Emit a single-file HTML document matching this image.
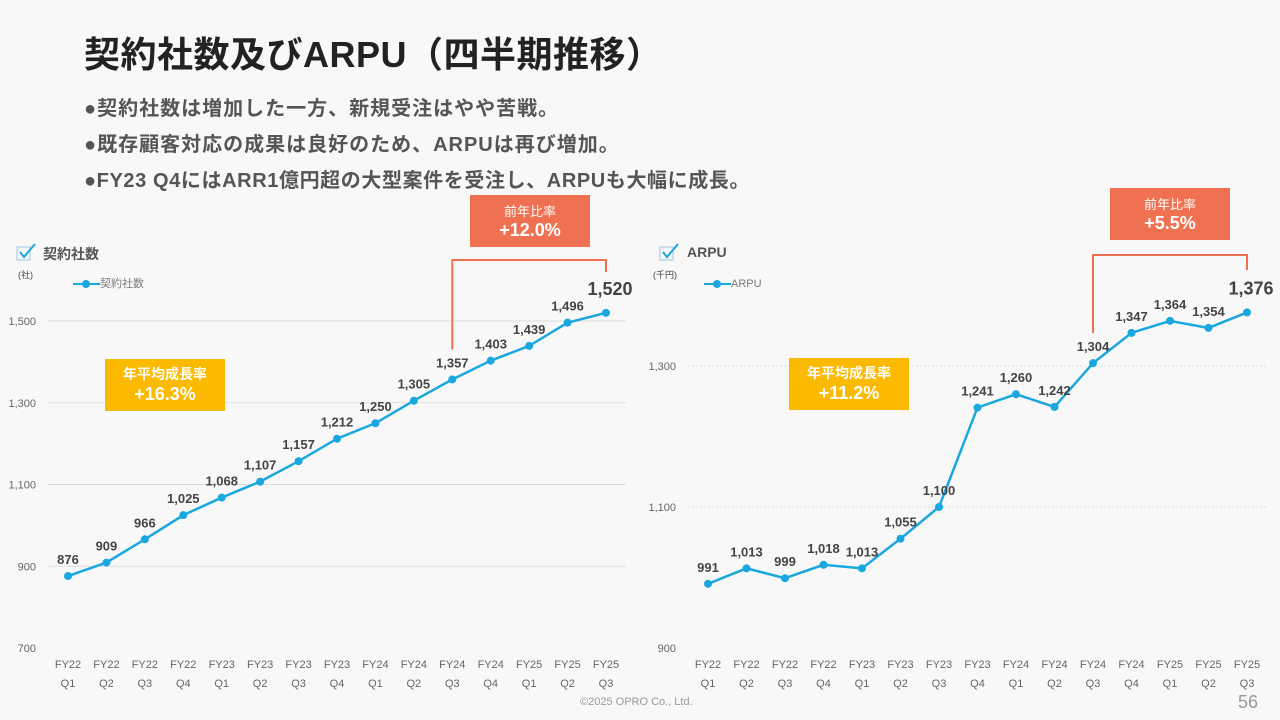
<!DOCTYPE html>
<html><head><meta charset="utf-8">
<style>
body{margin:0;width:1280px;height:720px;background:#f8f8f8;font-family:"Liberation Sans","Noto Sans CJK JP",sans-serif;overflow:hidden;position:relative}
.t{position:absolute;white-space:nowrap}
</style></head><body>
<div class="t" style="left:84px;top:26px;font-size:36px;font-weight:bold;color:#222;letter-spacing:0.5px">契約社数及びARPU（四半期推移）</div>
<div class="t" style="left:84px;top:92px;font-size:20px;font-weight:bold;color:#555;letter-spacing:1px">●契約社数は増加した一方、新規受注はやや苦戦。</div>
<div class="t" style="left:84px;top:128px;font-size:20px;font-weight:bold;color:#555;letter-spacing:1px">●既存顧客対応の成果は良好のため、ARPUは再び増加。</div>
<div class="t" style="left:84px;top:164px;font-size:20px;font-weight:bold;color:#555;letter-spacing:0.6px">●FY23 Q4にはARR1億円超の大型案件を受注し、ARPUも大幅に成長。</div>
<div class="t" style="left:580px;top:696px;font-size:11px;color:#999">©2025 OPRO Co., Ltd.</div>
<div class="t" style="left:1238px;top:692px;font-size:18px;color:#999">56</div>
<svg id="svg" width="1280" height="720" style="position:absolute;left:0;top:0"></svg>
<script>
const cats=["FY22 Q1","FY22 Q2","FY22 Q3","FY22 Q4","FY23 Q1","FY23 Q2","FY23 Q3","FY23 Q4","FY24 Q1","FY24 Q2","FY24 Q3","FY24 Q4","FY25 Q1","FY25 Q2","FY25 Q3"];
const companies=[876,909,966,1025,1068,1107,1157,1212,1250,1305,1357,1403,1439,1496,1520];
const arpu=[991,1013,999,1018,1013,1055,1100,1241,1260,1242,1304,1347,1364,1354,1376];
const ticksL=[700,900,1100,1300,1500];
const ticksR=[900,1100,1300];
const svg=document.getElementById('svg');
const NS='http://www.w3.org/2000/svg';
function mk(tag,attrs,txt){const e=document.createElementNS(NS,tag);for(const k in attrs)e.setAttribute(k,attrs[k]);if(txt!==undefined)e.textContent=txt;svg.appendChild(e);return e;}
function chart(o){
  const x=i=>o.x0+i*(o.x1-o.x0)/(cats.length-1);
  const y=v=>o.yb-(v-o.vmin)*(o.yb-o.yt)/(o.vmax-o.vmin);
  o.ticks.forEach(t=>{
    if(t>o.vmin){const l=mk('line',{x1:o.gx0,x2:o.gx1,y1:y(t),y2:y(t),stroke:'#ddd','stroke-width':1,'stroke-dasharray':o.dash});
    }
    const tx=mk('text',{x:o.tx,y:y(t)+4,'font-size':11,fill:'#666','text-anchor':'end'},t.toLocaleString('en-US'));
    
  });
  cats.forEach((c,i)=>{const p=c.split(' ');
    const a=mk('text',{x:x(i),y:668,'font-size':11,fill:'#666','text-anchor':'middle'},p[0]);
    
    const b=mk('text',{x:x(i),y:687,'font-size':11,fill:'#666','text-anchor':'middle'},p[1]);
    });
  const pl=mk('polyline',{points:o.data.map((v,i)=>x(i)+','+y(v)).join(' '),fill:'none',stroke:'#1aa7e0','stroke-width':2.5});
  
  o.data.forEach((v,i)=>{
    const c=mk('circle',{cx:x(i),cy:y(v),r:4,fill:'#1aa7e0'});
    
    const last=i===o.data.length-1;
    const t=mk('text',{x:x(i)+(last?4:0),y:y(v)-(last?18:12),'font-size':last?18:13,'font-weight':'bold',fill:'#444','text-anchor':'middle'},v.toLocaleString('en-US'));
    
  });
  return {x,y};
}
const L=chart({data:companies,ticks:ticksL,vmin:700,vmax:1500,yb:648,yt:321,x0:68,x1:606,gx0:48,gx1:626,tx:36,dash:'none'});
const R=chart({data:arpu,ticks:ticksR,vmin:900,vmax:1300,yb:648,yt:366,x0:708,x1:1247,gx0:688,gx1:1266,tx:676,dash:'2,2'});
function bracket(xa,xb,ytop,ya,yb2,name){
  const p=mk('polyline',{points:`${xa},${ya} ${xa},${ytop} ${xb},${ytop} ${xb},${yb2}`,fill:'none',stroke:'#f07152','stroke-width':2});
  
}
bracket(L.x(10),L.x(14),260,L.y(companies[10])-30,272,'yoy-bracket-left');
bracket(R.x(10),R.x(14),255,R.y(arpu[10])-30,270,'yoy-bracket-right');
</script>
<svg class="t" style="left:16px;top:242px" width="22" height="20"><rect x="1" y="5" width="13" height="13" fill="none" stroke="#9cc9e6"/><path d="M4 10 L8 15 L19 2" fill="none" stroke="#1aa7e0" stroke-width="2"/></svg>
<div class="t" style="left:43px;top:244px;font-size:14px;font-weight:bold;color:#555">契約社数</div>
<div class="t" style="left:18px;top:268px;font-size:9px;color:#444">(社)</div>
<div class="t" style="left:73px;top:275px;font-size:11px;color:#777"><span style="display:inline-block;width:27px;height:2px;background:#1aa7e0;vertical-align:middle;position:relative"><span style="position:absolute;left:9px;top:-3px;width:8px;height:8px;border-radius:50%;background:#1aa7e0"></span></span>契約社数</div>
<svg class="t" style="left:659px;top:242px" width="22" height="20"><rect x="1" y="5" width="13" height="13" fill="none" stroke="#9cc9e6"/><path d="M4 10 L8 15 L19 2" fill="none" stroke="#1aa7e0" stroke-width="2"/></svg>
<div class="t" style="left:687px;top:244px;font-size:14px;font-weight:bold;color:#555">ARPU</div>
<div class="t" style="left:653px;top:268px;font-size:9px;color:#444">(千円)</div>
<div class="t" style="left:704px;top:278px;font-size:11px;color:#777"><span style="display:inline-block;width:27px;height:2px;background:#1aa7e0;vertical-align:middle;position:relative"><span style="position:absolute;left:9px;top:-3px;width:8px;height:8px;border-radius:50%;background:#1aa7e0"></span></span>ARPU</div>
<div class="t" style="left:105px;top:359px;width:120px;height:52px;background:#fbb900;color:#fff;text-align:center;font-weight:bold"><div style="font-size:14px;margin-top:5px">年平均成長率</div><div style="font-size:18px">+16.3%</div></div>
<div class="t" style="left:789px;top:358px;width:120px;height:52px;background:#fbb900;color:#fff;text-align:center;font-weight:bold"><div style="font-size:14px;margin-top:5px">年平均成長率</div><div style="font-size:18px">+11.2%</div></div>
<div class="t" style="left:470px;top:195px;width:120px;height:52px;background:#f07152;color:#fff;text-align:center"><div style="font-size:13px;margin-top:6px">前年比率</div><div style="font-size:18px;font-weight:bold">+12.0%</div></div>
<div class="t" style="left:1110px;top:188px;width:120px;height:52px;background:#f07152;color:#fff;text-align:center"><div style="font-size:13px;margin-top:6px">前年比率</div><div style="font-size:18px;font-weight:bold">+5.5%</div></div>
</body></html>
